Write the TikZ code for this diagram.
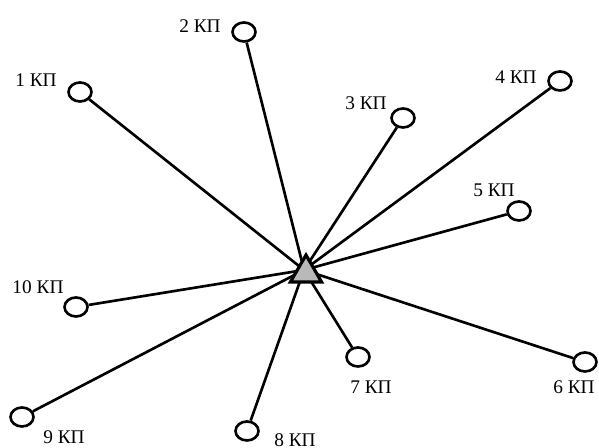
\documentclass[tikz,border=0pt]{standalone}
\usepackage{fontspec}
\setmainfont{Liberation Serif}
\usetikzlibrary{shapes.geometric, positioning}

\begin{document}
\begin{tikzpicture}[x=0.02cm, y=-0.02cm, line width=1.5pt,
        kp/.style={draw, ellipse, minimum width=0.46cm, minimum height=0.38cm, inner sep=0pt, fill=white},
        pp/.style={draw, regular polygon, regular polygon sides=3, minimum size=0.72cm, inner sep=0pt, fill=gray!55, line width=1.8pt},
        lbl/.style={font=\fontsize{11}{13}\selectfont, inner sep=1pt}]
        \useasboundingbox (0,0) rectangle (599,448);
        \coordinate (hub) at (304,270);
        \begin{scope}
            \node[kp] (k1) at (80,92) {};
            \node[kp] (k2) at (244,32) {};
            \node[kp] (k3) at (403,118) {};
            \node[kp] (k4) at (560,81) {};
            \node[kp] (k5) at (519,211) {};
            \node[kp] (k6) at (585,362) {};
            \node[kp] (k7) at (358,357) {};
            \node[kp] (k8) at (247,431) {};
            \node[kp] (k9) at (22,417) {};
            \node[kp] (k10) at (76,307) {};
            \foreach \i in {1,...,10}
                \draw (k\i) -- (hub);
        \end{scope}
        \node[pp] (pt) at (306,273) {};
        \begin{scope}[lbl]
            \node (l1) at (36,80) {1 КП};
            \node (l2) at (200,26) {2 КП};
            \node (l3) at (366,103) {3 КП};
            \node (l4) at (516,77) {4 КП};
            \node (l5) at (494,190) {5 КП};
            \node (l6) at (574,387) {6 КП};
            \node (l7) at (371,387) {7 КП};
            \node (l8) at (295,440) {8 КП};
            \node (l9) at (64,437) {9 КП};
            \node (l10) at (38,287) {10 КП};
        \end{scope}
    \end{tikzpicture}
\end{document}
